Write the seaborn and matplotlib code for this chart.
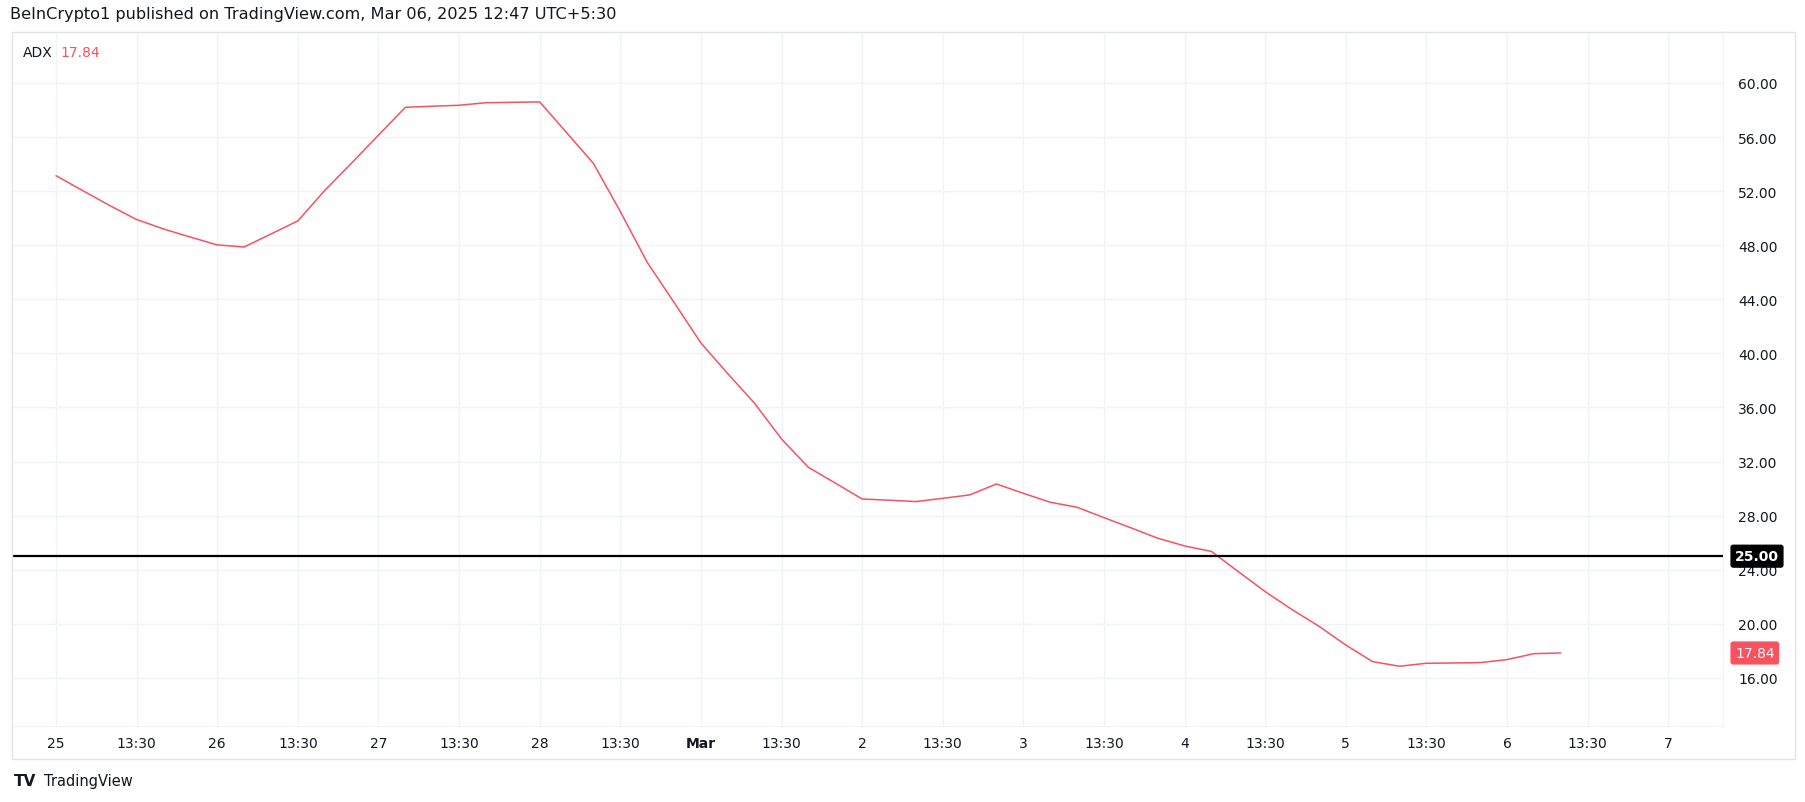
"""
ADX-Verlauf (4h-Kerzen), nachgebaut im TradingView-Stil.
"""

import matplotlib
matplotlib.use("Agg")
import matplotlib.pyplot as plt
import matplotlib.patches as mpatches
import seaborn as sns
import pandas as pd

# ADX je 4h-Kerze (Index 0 = 25. Feb 01:30)
adx_values = [
    53.14, 52.03, 50.93, 49.90, 49.20, 48.60, 48.02, 47.87, 48.83, 49.80,
    52.05, 54.08, 56.14, 58.20, 58.28, 58.35, 58.54, 58.57, 58.60, 56.33,
    54.05, 50.49, 46.74, 43.77, 40.77, 38.50, 36.30, 33.67, 31.57, 30.41,
    29.23, 29.14, 29.04, 29.28, 29.53, 30.34, 29.65, 28.99, 28.62, 27.85,
    27.10, 26.33, 25.76, 25.35, 23.86, 22.38, 21.05, 19.82, 18.43, 17.20,
    16.86, 17.08, 17.10, 17.13, 17.35, 17.79, 17.84,
]
bar_index = list(range(len(adx_values)))

x_tick_pos = list(range(0, 61, 3))
x_tick_labels = ["25", "13:30", "26", "13:30", "27", "13:30", "28", "13:30",
                 "Mar", "13:30", "2", "13:30", "3", "13:30", "4", "13:30",
                 "5", "13:30", "6", "13:30", "7"]
y_ticks = [16, 20, 24, 28, 32, 36, 40, 44, 48, 52, 56, 60]
threshold = 25.0
last_value = 17.84

LINE_RED = "#f7525f"
TEXT = "#131722"
GRID = "#f0f3fa"
BORDER = "#e0e3eb"

sns.set_theme(style="white")
plt.rcParams["font.family"] = ["DejaVu Sans"]

df = pd.DataFrame({"bar": bar_index, "adx": adx_values})

W, H = 1805, 803
fig = plt.figure(figsize=(W / 100, H / 100), dpi=100)
fig.patch.set_facecolor("white")

# Plotbereich in Pixeln: x 12..1723, y 33..727
ax = fig.add_axes([12 / W, 1 - 727 / H, (1723 - 12) / W, (727 - 33) / H])

sns.lineplot(data=df, x="bar", y="adx", ax=ax, color=LINE_RED, linewidth=1.1)
ax.axhline(threshold, color="black", linewidth=1.6, zorder=3)

ax.set_xlim(-1.64, 62.04)
ax.set_ylim(12.44, 63.77)

ax.set_xticks(x_tick_pos)
ax.set_xticklabels(x_tick_labels)
ax.set_yticks(y_ticks)
ax.set_yticklabels([f"{v:.2f}" for v in y_ticks])
ax.yaxis.tick_right()
ax.tick_params(axis="y", length=0, pad=11, labelsize=10, labelcolor=TEXT)
ax.tick_params(axis="x", length=0, pad=7, labelsize=10, labelcolor=TEXT)
for lbl in ax.get_xticklabels():
    if lbl.get_text() == "Mar":
        lbl.set_fontweight("bold")

ax.grid(True, color=GRID, linewidth=1.0)
ax.set_xlabel("")
ax.set_ylabel("")
for side in ["top", "left"]:
    ax.spines[side].set_visible(False)
for side in ["right", "bottom"]:
    ax.spines[side].set_color(GRID)
    ax.spines[side].set_linewidth(0.8)

# Preisbeschriftungen rechts
label_x = (1735 - 12) / (1723 - 12)
ax.annotate(f"{threshold:.2f}", xy=(label_x, threshold),
            xycoords=("axes fraction", "data"), ha="left", va="center",
            fontsize=10, color="white", fontweight="bold", annotation_clip=False,
            bbox=dict(boxstyle="round,pad=0.28,rounding_size=0.15", fc="black", ec="black"))
ax.annotate(f"{last_value:.2f}", xy=(label_x, last_value),
            xycoords=("axes fraction", "data"), ha="left", va="center",
            fontsize=10, color="white", annotation_clip=False,
            bbox=dict(boxstyle="round,pad=0.28,rounding_size=0.15", fc=LINE_RED, ec=LINE_RED))

# Rahmen um das Chart
frame = mpatches.Rectangle((12 / W, 1 - 760 / H), (1795 - 12) / W, (760 - 33) / H,
                           transform=fig.transFigure, fill=False,
                           edgecolor=BORDER, linewidth=1.0)
fig.patches.append(frame)

# Kopfzeile, Legende, Logo
fig.text(10 / W, 1 - 15 / H, "BeInCrypto1 published on TradingView.com, Mar 06, 2025 12:47 UTC+5:30",
         fontsize=11.6, color=TEXT, ha="left", va="center")
fig.text(23 / W, 1 - 53 / H, "ADX", fontsize=10, color=TEXT, ha="left", va="center")
fig.text(60 / W, 1 - 53 / H, f"{last_value:.2f}", fontsize=10, color=LINE_RED,
         ha="left", va="center")
fig.text(14 / W, 1 - 782 / H, "TV", fontsize=11, color=TEXT, fontweight="heavy",
         ha="left", va="center")
fig.text(44 / W, 1 - 782 / H, "TradingView", fontsize=10.5, color=TEXT,
         ha="left", va="center")

fig.savefig("out.png", dpi=100, facecolor="white")
plt.close(fig)
